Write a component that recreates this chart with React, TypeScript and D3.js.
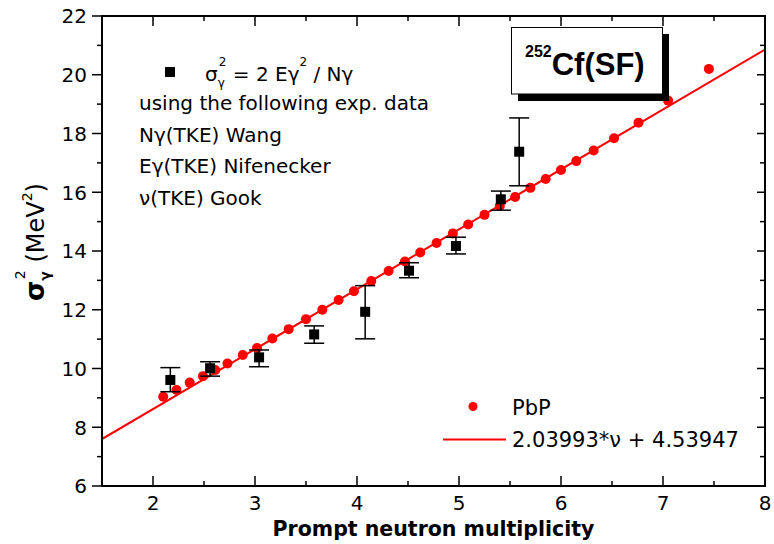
import React from 'react';
import * as d3 from 'd3';

// PbP calculation (red dots)
const pbpNu = [2.10, 2.23, 2.36, 2.49, 2.61, 2.73, 2.88, 3.02, 3.17, 3.33, 3.50, 3.66, 3.82, 3.97, 4.14, 4.31, 4.47, 4.62, 4.78, 4.94, 5.09, 5.25, 5.40, 5.55, 5.70, 5.85, 6.00, 6.15, 6.32, 6.52, 6.76, 7.05, 7.45];
const pbpSigma2 = [9.04, 9.27, 9.52, 9.74, 9.95, 10.17, 10.46, 10.70, 11.02, 11.34, 11.68, 12.00, 12.33, 12.63, 12.98, 13.32, 13.64, 13.95, 14.27, 14.60, 14.90, 15.23, 15.53, 15.84, 16.15, 16.45, 16.76, 17.06, 17.42, 17.84, 18.37, 19.12, 20.20];

// Experimental-data derived points (black squares with error bars)
const expNu = [2.17, 2.56, 3.04, 3.58, 4.08, 4.51, 4.97, 5.41, 5.59];
const expSigma2 = [9.61, 10.01, 10.38, 11.16, 11.93, 13.33, 14.17, 15.76, 17.38];
const expLow = [9.21, 9.74, 10.06, 10.86, 11.01, 13.09, 13.90, 15.39, 16.22];
const expHigh = [10.03, 10.23, 10.63, 11.45, 12.82, 13.60, 14.47, 16.04, 18.53];

// Linear fit
const fitSlope = 2.03993;
const fitIntercept = 4.53947;
const fitRange = [1.5, 8];

// Axes
const xDomain = [1.5, 8];
const yDomain = [6, 22];
const xMajor = [2, 3, 4, 5, 6, 7, 8];
const xMinor = [2.5, 3.5, 4.5, 5.5, 6.5, 7.5];
const yMajor = [6, 8, 10, 12, 14, 16, 18, 20, 22];
const yMinor = [7, 9, 11, 13, 15, 17, 19, 21];

const xTitle = 'Prompt neutron multiplicity';
const infoLines = ['using the following exp. data', 'Nγ(TKE) Wang', 'Eγ(TKE) Nifenecker', 'ν(TKE) Gook'];
const legendDots = 'PbP';
const legendFit = '2.03993*ν + 4.53947';

const FONT = 'DejaVu Sans, sans-serif';

export default function App() {
  const W = 774, H = 544;
  const L = 102, R = 765, T = 16, B = 486;
  const x = d3.scaleLinear().domain(xDomain).range([L, R]);
  const y = d3.scaleLinear().domain(yDomain).range([B, T]);

  const fitLine = d3.line<number>()
    .x(v => x(v))
    .y(v => y(fitSlope * v + fitIntercept))(fitRange) || '';

  const red = '#ff0000';

  return (
    <svg width={W} height={H} style={{ position: 'absolute', left: 0, top: 0, background: '#fff' }} fontFamily={FONT}>
      <rect x={0} y={0} width={W} height={H} fill="#fff" />
      <defs>
        <clipPath id="plotclip">
          <rect x={L} y={T} width={R - L} height={B - T} />
        </clipPath>
      </defs>

      {/* fit line */}
      <path d={fitLine} stroke={red} strokeWidth={2} fill="none" clipPath="url(#plotclip)" />

      {/* PbP dots */}
      {pbpNu.map((v, i) => (
        <circle key={'p' + i} cx={x(v)} cy={y(pbpSigma2[i])} r={5} fill={red} />
      ))}

      {/* experimental squares with error bars */}
      {expNu.map((v, i) => {
        const cx = x(v);
        return (
          <g key={'e' + i} stroke="#000" strokeWidth={1.5}>
            <line x1={cx} x2={cx} y1={y(expLow[i])} y2={y(expHigh[i])} />
            <line x1={cx - 10} x2={cx + 10} y1={y(expLow[i])} y2={y(expLow[i])} />
            <line x1={cx - 10} x2={cx + 10} y1={y(expHigh[i])} y2={y(expHigh[i])} />
            <rect x={cx - 5} y={y(expSigma2[i]) - 5} width={10} height={10} fill="#000" stroke="none" />
          </g>
        );
      })}

      {/* frame */}
      <rect x={L} y={T} width={R - L} height={B - T} fill="none" stroke="#000" strokeWidth={2} />

      {/* ticks */}
      <g stroke="#000" strokeWidth={1.5}>
        {yMajor.map(v => <line key={'ylm' + v} x1={L - 10} x2={L} y1={y(v)} y2={y(v)} />)}
        {yMinor.map(v => <line key={'yln' + v} x1={L - 5} x2={L} y1={y(v)} y2={y(v)} />)}
        {yMajor.map(v => <line key={'yrm' + v} x1={R - 8} x2={R} y1={y(v)} y2={y(v)} />)}
        {yMinor.map(v => <line key={'yrn' + v} x1={R - 5} x2={R} y1={y(v)} y2={y(v)} />)}
        {xMajor.map(v => <line key={'xbm' + v} x1={x(v)} x2={x(v)} y1={B} y2={B - 10} />)}
        {xMinor.map(v => <line key={'xbn' + v} x1={x(v)} x2={x(v)} y1={B} y2={B - 5} />)}
        {xMajor.map(v => <line key={'xtm' + v} x1={x(v)} x2={x(v)} y1={T} y2={T + 10} />)}
        {xMinor.map(v => <line key={'xtn' + v} x1={x(v)} x2={x(v)} y1={T} y2={T + 5} />)}
      </g>

      {/* tick labels */}
      <g fontSize={20} fill="#000">
        {yMajor.map(v => (
          <text key={'yt' + v} x={L - 15} y={y(v) + 7.3} textAnchor="end">{v}</text>
        ))}
        {xMajor.map(v => (
          <text key={'xt' + v} x={x(v)} y={510} textAnchor="middle">{v}</text>
        ))}
      </g>

      {/* axis titles */}
      <text x={(L + R) / 2} y={536} textAnchor="middle" fontSize={20.5} fontWeight="bold">{xTitle}</text>
      <text transform="translate(44,242) rotate(-90)" textAnchor="middle" fontSize={24}>
        <tspan fontWeight="bold" fontSize={26}>σ</tspan>
        <tspan fontWeight="bold" fontSize={14} dy={6}>γ</tspan>
        <tspan fontSize={14} dx={-8} dy={-25}>2</tspan>
        <tspan dy={19}> (MeV</tspan>
        <tspan fontSize={14} dy={-12}>2</tspan>
        <tspan dy={12}>)</tspan>
      </text>

      {/* info legend top-left */}
      <rect x={165} y={67} width={10} height={10} fill="#000" />
      <text x={205} y={81} fontSize={20}>
        <tspan>σ</tspan>
        <tspan fontSize={12} dy={6}>γ</tspan>
        <tspan fontSize={12} dx={-6} dy={-21}>2</tspan>
        <tspan dy={15}> = 2 Eγ</tspan>
        <tspan fontSize={12} dy={-15}>2</tspan>
        <tspan dy={15}> / Nγ</tspan>
      </text>
      {infoLines.map((s, i) => (
        <text key={'il' + i} x={139} y={110 + i * 31.5} fontSize={20}>{s}</text>
      ))}

      {/* title box */}
      <rect x={518} y={34} width={151} height={67} fill="#000" />
      <rect x={511.5} y={27.5} width={151} height={66.5} fill="#fff" stroke="#000" strokeWidth={1} />
      <text x={525} y={75} fontFamily="Liberation Sans, Arial, sans-serif" fontWeight="bold">
        <tspan fontSize={16} dy={-18}>252</tspan>
        <tspan fontSize={31} dy={18}>Cf(SF)</tspan>
      </text>

      {/* bottom legend */}
      <circle cx={473} cy={406.5} r={4.5} fill={red} />
      <text x={512} y={415} fontSize={21}>{legendDots}</text>
      <line x1={443} x2={506} y1={439.5} y2={439.5} stroke={red} strokeWidth={2} />
      <text x={512} y={447} fontSize={21}>{legendFit}</text>
    </svg>
  );
}
